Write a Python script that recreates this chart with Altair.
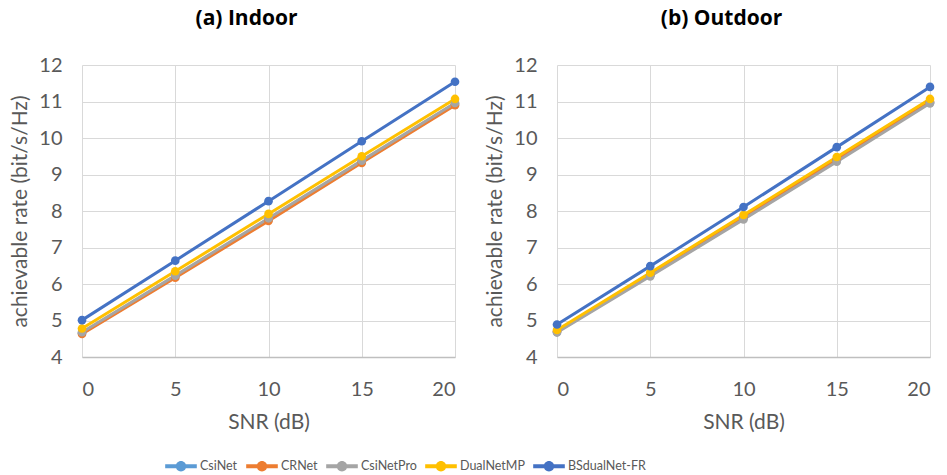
import altair as alt
import pandas as pd

snr = [0, 5, 10, 15, 20]
methods = ["CsiNet", "CRNet", "CsiNetPro", "DualNetMP", "BSdualNet-FR"]
colors = ["#5B9BD5", "#ED7D31", "#A5A5A5", "#FFC000", "#4472C4"]

indoor_csinet = [4.65, 6.20, 7.76, 9.35, 10.94]
indoor_crnet = [4.63, 6.17, 7.73, 9.32, 10.90]
indoor_csinetpro = [4.68, 6.23, 7.80, 9.38, 10.96]
indoor_dualnetmp = [4.78, 6.35, 7.92, 9.50, 11.07]
indoor_bsdualnet = [5.01, 6.64, 8.27, 9.91, 11.54]

outdoor_csinet = [4.69, 6.24, 7.80, 9.39, 10.97]
outdoor_crnet = [4.70, 6.25, 7.82, 9.41, 10.99]
outdoor_csinetpro = [4.67, 6.21, 7.77, 9.35, 10.95]
outdoor_dualnetmp = [4.74, 6.31, 7.89, 9.48, 11.07]
outdoor_bsdualnet = [4.89, 6.49, 8.11, 9.75, 11.40]

FONT = "Lato"
GRAY = "#595959"


def make_df(series):
    rows = []
    for order, (m, vals) in enumerate(zip(methods, series)):
        for s, v in zip(snr, vals):
            rows.append({"SNR": s, "rate": v, "method": m, "order": order})
    return pd.DataFrame(rows)


indoor = make_df([indoor_csinet, indoor_crnet, indoor_csinetpro, indoor_dualnetmp, indoor_bsdualnet])
outdoor = make_df([outdoor_csinet, outdoor_crnet, outdoor_csinetpro, outdoor_dualnetmp, outdoor_bsdualnet])

legend_symbol = "M-1,-0.12H1V0.12H-1Z M0.33,0A0.33,0.33,0,1,1,-0.33,0A0.33,0.33,0,1,1,0.33,0Z"

color = alt.Color(
    "method:N",
    scale=alt.Scale(domain=methods, range=colors),
    sort=methods,
    legend=alt.Legend(
        title=None,
        orient="none",
        legendX=83,
        legendY=385,
        direction="horizontal",
        symbolType=legend_symbol,
        symbolSize=1000,
        symbolStrokeWidth=0,
        labelFontSize=12.5,
        labelColor=GRAY,
        labelFont=FONT,
        columnPadding=8,
        labelOffset=3,
    ),
)


def panel(df, title):
    base = alt.Chart(df).encode(
        x=alt.X(
            "SNR:Q",
            scale=alt.Scale(domain=[0, 20], nice=False),
            axis=alt.Axis(
                title="SNR (dB)",
                values=snr,
                grid=True,
                gridColor="#d9d9d9",
                domainColor="#bfbfbf",
                domainWidth=1.5,
                ticks=False,
                labelPadding=22,
                titlePadding=12,
            ),
        ),
        y=alt.Y(
            "rate:Q",
            scale=alt.Scale(domain=[4, 12], nice=False),
            axis=alt.Axis(
                title="achievable rate (bit/s/Hz)",
                values=[4, 5, 6, 7, 8, 9, 10, 11, 12],
                grid=True,
                gridColor="#d9d9d9",
                domain=False,
                ticks=False,
                labelPadding=20,
                titlePadding=8,
            ),
        ),
        color=color,
        order=alt.Order("order:Q"),
        detail="method:N",
    )
    lines = base.mark_line(strokeWidth=3)
    pts = base.mark_point(filled=True, size=75, opacity=1)
    return alt.layer(lines, pts).properties(
        width=373,
        height=292,
        title=alt.TitleParams(
            title, fontSize=21, font="Open Sans", fontWeight="bold", color="#000000", offset=26, dx=-22
        ),
    )


chart = alt.hconcat(panel(indoor, "(a) Indoor"), panel(outdoor, "(b) Outdoor"), spacing=23).properties(
    padding={"left": 1, "top": 0, "right": 0, "bottom": 0}
).configure_axis(
    labelFont=FONT,
    titleFont=FONT,
    labelFontSize=20,
    titleFontSize=21,
    labelColor=GRAY,
    titleColor=GRAY,
    titleFontWeight="normal",
).configure_view(stroke=None)

chart.save("out.html", embed_options={"renderer": "svg", "actions": False})
